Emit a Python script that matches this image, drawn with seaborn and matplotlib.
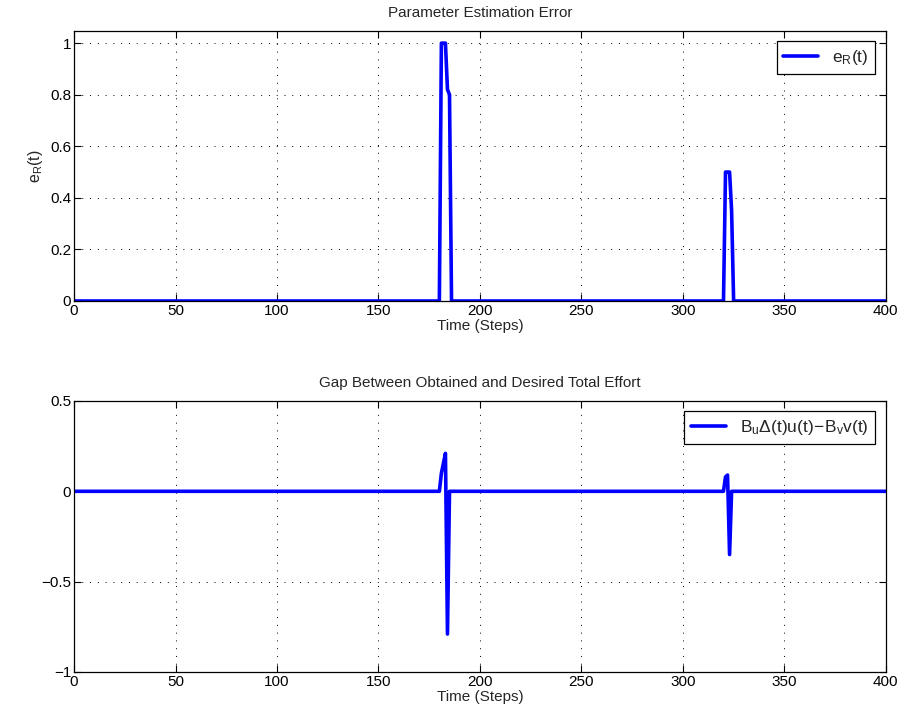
import matplotlib
matplotlib.use("Agg")
import matplotlib.pyplot as plt
import seaborn as sns
import pandas as pd

# Data (time steps and values; linear segments between samples)
t_err = [0, 180, 181, 182, 183, 184, 185, 186, 320, 321, 322, 323, 324, 325, 400]
e_R = [0, 0, 1.0, 1.0, 1.0, 0.82, 0.80, 0, 0, 0.5, 0.5, 0.5, 0.35, 0, 0]

t_gap = [0, 180, 181, 182, 183, 184, 185, 320, 321, 322, 323, 324, 400]
gap = [0, 0, 0.10, 0.155, 0.21, -0.79, 0, 0, 0.08, 0.09, -0.35, 0, 0]

x_ticks = [0, 50, 100, 150, 200, 250, 300, 350, 400]
y_ticks_top = [0, 0.2, 0.4, 0.6, 0.8, 1.0]
y_ticks_bot = [-1, -0.5, 0, 0.5]

sns.set_style("ticks")
plt.rcParams['font.family'] = ['Liberation Sans', 'DejaVu Sans']
plt.rcParams['mathtext.fontset'] = 'custom'
plt.rcParams['mathtext.rm'] = 'Liberation Sans'
plt.rcParams['xtick.direction'] = 'in'
plt.rcParams['ytick.direction'] = 'in'

fig = plt.figure(figsize=(9.03, 7.26), dpi=100)
ax1 = fig.add_axes([0.082, 0.5854, 0.899, 0.3719])
ax2 = fig.add_axes([0.082, 0.0744, 0.899, 0.3733])

df1 = pd.DataFrame({"t": t_err, "v": e_R})
df2 = pd.DataFrame({"t": t_gap, "v": gap})

sns.lineplot(data=df1, x="t", y="v", ax=ax1, color="#0000ff", lw=2.6,
             label=r"$\mathregular{e_R(t)}$", sort=False)
sns.lineplot(data=df2, x="t", y="v", ax=ax2, color="#0000ff", lw=2.6,
             label=r"$\mathregular{B_u\Delta(t)u(t)\!-\!B_v v(t)}$", sort=False)

for ax, yt, ylim in [(ax1, y_ticks_top, (0, 1.047)), (ax2, y_ticks_bot, (-1, 0.5))]:
    ax.set_xlim(0, 400)
    ax.set_ylim(*ylim)
    ax.set_xticks(x_ticks)
    ax.set_yticks(yt)
    ax.set_yticklabels([("%g" % v).replace("-", "\u2212") for v in yt])
    ax.tick_params(labelsize=11, top=True, right=True, length=5, width=0.8,
                   pad=2, colors="black")
    ax.grid(True, color="black", linestyle=(0, (1, 7)), linewidth=0.7)
    for s in ax.spines.values():
        s.set_visible(True)
        s.set_color("black")
        s.set_linewidth(0.9)
    ax.set_xlabel("Time (Steps)", fontsize=11, labelpad=1)
    leg = ax.legend(loc="upper right", fontsize=12.5, frameon=True, fancybox=False,
                    edgecolor="black", framealpha=1, borderaxespad=0.6,
                    handlelength=2.0, borderpad=0.4)
    leg.get_frame().set_linewidth(0.9)

ax1.set_ylabel(r"$\mathregular{e_R(t)}$", fontsize=11.5, labelpad=4)
ax2.set_ylabel("")
ax1.set_title("Parameter Estimation Error", fontsize=11, pad=10)
ax2.set_title("Gap Between Obtained and Desired Total Effort", fontsize=11, pad=10)

fig.savefig("out.png", dpi=100)
